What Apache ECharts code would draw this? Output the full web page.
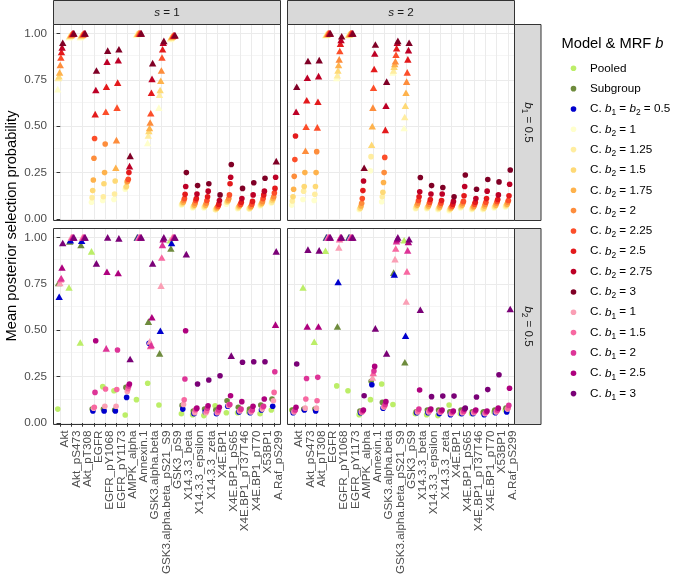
<!DOCTYPE html>
<html><head><meta charset="utf-8">
<script src="https://cdn.jsdelivr.net/npm/echarts@6/dist/echarts.min.js"></script>
<style>html,body{margin:0;padding:0;background:#fff}#c{width:685px;height:578px}</style>
</head><body><div id="c"></div>
<script>
const proteins = ['Akt','Akt_pS473','Akt_pT308','EGFR','EGFR_pY1068','EGFR_pY1173','AMPK_alpha','Annexin.1',
  'GSK3.alpha.beta','GSK3.alpha.beta_pS21_S9','GSK3_pS9','X14.3.3_beta','X14.3.3_epsilon','X14.3.3_zeta',
  'X4E.BP1','X4E.BP1_pS65','X4E.BP1_pT37T46','X4E.BP1_pT70','X53BP1','A.Raf_pS299'];
const topSeries = ['C. b2 = 1','C. b2 = 1.25','C. b2 = 1.5','C. b2 = 1.75','C. b2 = 2','C. b2 = 2.25','C. b2 = 2.5','C. b2 = 2.75','C. b2 = 3'];
const topColors = ['#FFFFCC','#FFEDA0','#FED976','#FEB24C','#FD8D3C','#FC4E2A','#E31A1C','#BD0026','#800026'];
const bottomSeries = ['Pooled','Subgroup','C. b1 = b2 = 0.5','C. b1 = 1','C. b1 = 1.5','C. b1 = 2','C. b1 = 2.5','C. b1 = 3'];
const bottomColors = ['#BCEE68','#6E8B3D','#0000CD','#FA9FB5','#F768A1','#DD3497','#AE017E','#7A0177'];
const legendOrder = ['Pooled','Subgroup','C. b1 = b2 = 0.5'].concat(topSeries, bottomSeries.slice(3));
const yTicks = [0, 0.25, 0.5, 0.75, 1];
const yMinor = [0.125, 0.375, 0.625, 0.875];

// rows = proteins, columns = series (s = 1, b1 = 0.5)
const s1b1 = [
 [0.70,0.76,0.77,0.79,0.83,0.87,0.90,0.925,0.95],
 [0.98,0.985,0.99,0.99,0.995,0.997,1,1,1],
 [0.98,0.985,0.99,0.992,0.995,0.997,1,1,1],
 [0.09,0.115,0.153,0.21,0.327,0.434,0.565,0.695,0.80],
 [0.10,0.12,0.19,0.25,0.404,0.578,0.713,0.847,0.907],
 [0.105,0.135,0.205,0.276,0.425,0.60,0.735,0.855,0.915],
 [0.16,0.17,0.175,0.20,0.205,0.214,0.25,0.285,0.34],
 [0.995,0.997,0.998,1,1,1,1,1,1],
 [0.41,0.45,0.475,0.49,0.52,0.57,0.68,0.755,0.84],
 [0.60,0.67,0.695,0.745,0.80,0.87,0.915,0.95,0.96],
 [0.97,0.975,0.98,0.983,0.985,0.988,0.99,0.99,0.99],
 [0.075,0.08,0.085,0.09,0.10,0.11,0.133,0.175,0.25],
 [0.06,0.065,0.07,0.075,0.085,0.10,0.11,0.135,0.18],
 [0.06,0.065,0.07,0.075,0.085,0.10,0.12,0.15,0.19],
 [0.05,0.05,0.055,0.06,0.065,0.07,0.08,0.10,0.13],
 [0.08,0.09,0.095,0.10,0.11,0.13,0.19,0.225,0.294],
 [0.055,0.06,0.065,0.07,0.075,0.08,0.09,0.11,0.165],
 [0.055,0.055,0.06,0.065,0.07,0.08,0.095,0.13,0.195],
 [0.07,0.075,0.08,0.085,0.095,0.11,0.13,0.15,0.22],
 [0.085,0.09,0.10,0.11,0.12,0.14,0.165,0.225,0.312]
];
const s1b1Shape = ['TTTTTTTTT','TTTTTTTTT','TTTTTTTTT','CCCCCCTTT','CCCCCTTTT','CCCTTTTTT','CCCCCCCTT','TTTTTTTTT',
 'TTTTTTTTT','TTTTTTTTT','TTTTTTTTT','CCCCCCCCC','CCCCCCCCC','CCCCCCCCC','CCCCCCCCC','CCCCCCCCC','CCCCCCCCC',
 'CCCCCCCCC','CCCCCCCCC','CCCCCCCCT'];

// s = 2, b1 = 0.5
const s2b1 = [
 [0.075,0.097,0.12,0.16,0.23,0.32,0.447,0.578,0.713],
 [0.105,0.15,0.175,0.25,0.368,0.497,0.64,0.761,0.851],
 [0.10,0.133,0.175,0.25,0.363,0.494,0.632,0.77,0.856],
 [0.99,0.993,0.995,0.997,1,1,1,1,1],
 [0.76,0.775,0.80,0.83,0.86,0.905,0.945,0.965,0.985],
 [0.99,0.993,0.995,0.997,1,1,1,1,1],
 [0.05,0.055,0.06,0.07,0.085,0.11,0.153,0.205,0.276],
 [0.26,0.336,0.40,0.50,0.60,0.707,0.808,0.892,0.94],
 [0.093,0.12,0.144,0.197,0.25,0.332,0.48,0.61,0.74],
 [0.79,0.80,0.82,0.835,0.85,0.885,0.92,0.95,0.96],
 [0.49,0.55,0.61,0.68,0.74,0.79,0.86,0.91,0.95],
 [0.055,0.06,0.07,0.075,0.085,0.10,0.12,0.147,0.224],
 [0.055,0.06,0.065,0.07,0.08,0.09,0.105,0.135,0.18],
 [0.05,0.055,0.06,0.065,0.075,0.085,0.10,0.135,0.17],
 [0.045,0.05,0.055,0.06,0.065,0.07,0.08,0.095,0.12],
 [0.06,0.065,0.07,0.075,0.085,0.095,0.125,0.175,0.237],
 [0.05,0.055,0.06,0.065,0.07,0.08,0.09,0.11,0.16],
 [0.05,0.055,0.06,0.07,0.08,0.09,0.11,0.15,0.213],
 [0.06,0.065,0.07,0.075,0.085,0.095,0.105,0.13,0.20],
 [0.065,0.07,0.075,0.08,0.09,0.10,0.125,0.187,0.264]
];
const s2b1Shape = ['CCCCCCCTT','CCCCTTTTT','CCCCCTTTT','TTTTTTTTT','TTTTTTTTT','TTTTTTTTT','CCCCCCCCT','CCTTTTTTT',
 'CCCCCCTTT','TTTTTTTTT','TTTTTTTTT','CCCCCCCCC','CCCCCCCCC','CCCCCCCCC','CCCCCCCCC','CCCCCCCCC','CCCCCCCCC',
 'CCCCCCCCC','CCCCCCCCC','CCCCCCCCC'];

// s = 1, b2 = 0.5
const s1b2 = [
 [0.075,0.754,0.68,0.755,0.775,0.78,0.838,0.97],
 [0.73,0.978,0.985,1,1,1,1,1],
 [0.434,0.959,0.982,1,1,1,1,1],
 [0.925,0.075,0.065,0.08,0.085,0.165,0.443,0.86],
 [0.196,0.075,0.065,0.09,0.183,0.402,0.815,1.0],
 [0.174,0.07,0.065,0.09,0.18,0.393,0.808,0.995],
 [0.043,0.192,0.138,0.17,0.185,0.20,0.21,0.345],
 [0.126,1,1,1,1,1,1,1],
 [0.214,0.546,0.43,0.44,0.415,0.42,0.57,0.86],
 [0.097,0.375,0.497,0.74,0.892,0.96,0.99,1.0],
 [0.985,0.94,0.97,1,1,1,1,1],
 [0.05,0.095,0.075,0.10,0.125,0.237,0.497,0.91],
 [0.045,0.065,0.05,0.055,0.07,0.075,0.08,0.21],
 [0.04,0.075,0.06,0.055,0.065,0.08,0.093,0.232],
 [0.093,0.07,0.05,0.055,0.06,0.07,0.085,0.255],
 [0.055,0.12,0.09,0.095,0.10,0.10,0.147,0.363],
 [0.055,0.085,0.06,0.065,0.07,0.075,0.115,0.327],
 [0.06,0.075,0.055,0.06,0.065,0.07,0.09,0.33],
 [0.05,0.097,0.07,0.075,0.085,0.09,0.129,0.33],
 [0.07,0.129,0.09,0.12,0.165,0.276,0.53,0.925]
];
const s1b2Shape = ['CTTTTTTT','TTTTTTTT','TTTTTTTT','TCCCCCCT','CCCCCTTT','CCCCCCTT','CCCCCCCT','CTTTTTTT',
 'CTCTTTTT','CTTTTTTT','TTTTTTTT','CCCCCCCT','CCCCCCCC','CCCCCCCC','CCCCCCCC','CCCCCCCT','CCCCCCCC',
 'CCCCCCCC','CCCCCCCC','CCCCCCTT'];

// s = 2, b2 = 0.5
const s2b2 = [
 [0.07,0.07,0.055,0.06,0.065,0.07,0.085,0.318],
 [0.73,0.075,0.07,0.08,0.129,0.24,0.52,0.934],
 [0.438,0.075,0.065,0.08,0.12,0.246,0.52,0.93],
 [0.928,1,1,1,1,1,1,1],
 [0.20,0.52,0.76,0.946,0.99,1,1,1],
 [0.174,1,1,1,1,1,1,1],
 [0.045,0.065,0.055,0.06,0.06,0.065,0.07,0.147],
 [0.126,0.225,0.206,0.245,0.27,0.28,0.305,0.51],
 [0.21,0.111,0.08,0.085,0.09,0.10,0.115,0.375],
 [0.10,0.81,0.80,0.883,0.94,0.98,0.99,1.0],
 [0.985,0.327,0.47,0.655,0.817,0.93,0.975,0.99],
 [0.05,0.06,0.055,0.06,0.065,0.075,0.178,0.61],
 [0.045,0.07,0.055,0.06,0.065,0.07,0.075,0.142],
 [0.04,0.07,0.05,0.06,0.06,0.065,0.07,0.145],
 [0.097,0.06,0.045,0.05,0.055,0.06,0.065,0.145],
 [0.05,0.07,0.05,0.055,0.06,0.065,0.075,0.08],
 [0.05,0.06,0.05,0.055,0.06,0.065,0.07,0.14],
 [0.055,0.06,0.045,0.05,0.055,0.06,0.065,0.18],
 [0.06,0.07,0.055,0.06,0.065,0.07,0.08,0.26],
 [0.07,0.08,0.06,0.075,0.08,0.095,0.187,0.614]
];
const s2b2Shape = ['CCCCCCCC','TCCCCCTT','TCCCCCTT','TTTTTTTT','CTTTTTTT','CTTTTTTT','CCCCCCCC','CCCTTCCT',
 'CCCCCCCT','CTTTTTTT','TTTTTTTT','CCCCCCCT','CCCCCCCC','CCCCCCCC','CCCCCCCC','CCCCCCCC','CCCCCCCC',
 'CCCCCCCC','CCCCCCCC','CCCCCCCT'];

const FF = '"Liberation Sans", Arial, Helvetica, sans-serif';
const grids = [
  {left: 53.5, top: 24.5, width: 227, height: 196},
  {left: 287.5, top: 24.5, width: 227, height: 196},
  {left: 53.5, top: 228.5, width: 227, height: 196},
  {left: 287.5, top: 228.5, width: 227, height: 196}
];
const panels = [
  {data: s1b1, shape: s1b1Shape, names: topSeries, colors: topColors},
  {data: s2b1, shape: s2b1Shape, names: topSeries, colors: topColors},
  {data: s1b2, shape: s1b2Shape, names: bottomSeries, colors: bottomColors},
  {data: s2b2, shape: s2b2Shape, names: bottomSeries, colors: bottomColors}
];
const colorOf = {};
topSeries.forEach((n, i) => colorOf[n] = topColors[i]);
bottomSeries.forEach((n, i) => colorOf[n] = bottomColors[i]);

const YMIN = -0.008, YMAX = 1.048, XMIN = -0.6, XMAX = 19.6;
const xTickVals = proteins.map((_, i) => i);
// padding labels at the axis ends (empty text) so every protein label is kept
const xLabelVals = [XMIN].concat(xTickVals, [XMAX]);
const xAxes = [], yAxes = [], series = [];
grids.forEach((g, gi) => {
  const bottom = gi >= 2, left = gi % 2 === 0;
  xAxes.push({
    type: 'value', gridIndex: gi, min: XMIN, max: XMAX, z: 4,
    axisLine: {show: false},
    axisTick: {show: bottom, customValues: xTickVals, length: 3.7, lineStyle: {color: '#333333', width: 1}},
    axisLabel: {show: bottom, customValues: xLabelVals, rotate: 90, margin: 6, verticalAlign: 'top',
      lineHeight: 10, showMinLabel: false, showMaxLabel: false, hideOverlap: false,
      formatter: v => (Math.abs(v - Math.round(v)) < 1e-6 ? (proteins[Math.round(v)] || '') : ''),
      color: '#4D4D4D', fontSize: 11.7, fontFamily: FF},
    splitLine: {show: false}
  });
  yAxes.push({
    type: 'value', gridIndex: gi, min: YMIN, max: YMAX, position: 'left', z: 4,
    axisLine: {show: false},
    axisTick: {show: left, customValues: yTicks, length: 3.7, lineStyle: {color: '#333333', width: 1}},
    axisLabel: {show: left, customValues: yTicks, margin: 6.5, formatter: v => v.toFixed(2),
      showMinLabel: true, showMaxLabel: true,
      color: '#4D4D4D', fontSize: 11.7, fontFamily: FF},
    splitLine: {show: false}
  });
  // panel grid lines drawn on the axes' scales
  series.push({
    type: 'scatter', xAxisIndex: gi, yAxisIndex: gi, data: [], silent: true, z: 1, zlevel: 0,
    markLine: {
      silent: true, symbol: ['none', 'none'], animation: false, label: {show: false}, z: 1,
      lineStyle: {color: '#EBEBEB', width: 1, type: 'solid'},
      emphasis: {disabled: true},
      data: xTickVals.map(v => ({xAxis: v}))
        .concat(yTicks.map(v => ({yAxis: v})))
        .concat(yMinor.map(v => ({yAxis: v, lineStyle: {color: '#EBEBEB', width: 0.5, type: 'solid'}})))
    }
  });
  const p = panels[gi];
  const n = p.names.length, dw = 0.5;
  p.names.forEach((name, k) => {
    const off = -dw / 2 + (k + 0.5) * dw / n;
    series.push({
      type: 'scatter', name: name, xAxisIndex: gi, yAxisIndex: gi, silent: true, z: 6,
      itemStyle: {color: p.colors[k], opacity: 1},
      data: proteins.map((_, i) => {
        const tri = p.shape[i][k] === 'T';
        return {value: [i + off, p.data[i][k]], symbol: tri ? 'triangle' : 'circle',
          symbolSize: tri ? [7.4, 6.6] : 5.6};
      })
    });
  });
});

function richName(name) {
  let out = '', last = 0, m;
  const re = /b([12])/g;
  while ((m = re.exec(name))) {
    if (m.index > last) out += '{t|' + name.slice(last, m.index) + '}';
    out += '{i|b}{s|' + m[1] + '}';
    last = m.index + 2;
  }
  if (last < name.length) out += '{t|' + name.slice(last) + '}';
  return out;
}
function rich(size, color) {
  return {
    t: {fontSize: size, fontFamily: FF, fill: color, lineHeight: 16},
    i: {fontSize: size, fontFamily: FF, fontStyle: 'italic', fill: color, lineHeight: 16},
    s: {fontSize: size * 0.72, fontFamily: FF, fill: color, lineHeight: 7, verticalAlign: 'bottom'}
  };
}
colorOf['C. b1 = b2 = 0.5'] = '#0000CD';

const graphic = [];
// top strips
[['{i|s}{t| = 1}', grids[0]], ['{i|s}{t| = 2}', grids[1]]].forEach(([txt, g]) => {
  graphic.push({type: 'rect', shape: {x: g.left, y: 0.5, width: g.width, height: g.top - 0.5},
    style: {fill: '#D9D9D9', stroke: '#333333', lineWidth: 1}, z: 10});
  graphic.push({type: 'text', x: g.left + g.width / 2, y: 12.5, z: 11,
    style: {text: txt, rich: rich(11.7, '#1A1A1A'), align: 'center', verticalAlign: 'middle'}});
});
// right strips
[['{i|b}{s|1}{t| = 0.5}', grids[1]], ['{i|b}{s|2}{t| = 0.5}', grids[3]]].forEach(([txt, g]) => {
  const x0 = g.left + g.width;
  graphic.push({type: 'rect', shape: {x: x0, y: g.top, width: 26.5, height: g.height},
    style: {fill: '#D9D9D9', stroke: '#333333', lineWidth: 1}, z: 10});
  graphic.push({type: 'text', x: x0 + 13.5, y: g.top + g.height / 2, rotation: -Math.PI / 2, z: 11,
    style: {text: txt, rich: rich(11.7, '#1A1A1A'), align: 'center', verticalAlign: 'middle'}});
});
// y axis title
graphic.push({type: 'text', x: 12, y: 226, rotation: Math.PI / 2, z: 11,
  style: {text: 'Mean posterior selection probability', fontSize: 14.7, fontFamily: FF, fill: '#000',
    align: 'center', verticalAlign: 'middle'}});
// legend
graphic.push({type: 'text', x: 561.5, y: 43.5, z: 11,
  style: {text: '{t|Model & MRF }{i|b}', rich: rich(14.7, '#000'), align: 'left', verticalAlign: 'middle'}});
legendOrder.forEach((name, k) => {
  const y = 68.3 + k * 20.33;
  graphic.push({type: 'circle', shape: {cx: 573.5, cy: y, r: 2.8}, style: {fill: colorOf[name]}, z: 11});
  graphic.push({type: 'text', x: 590, y: y, z: 11,
    style: {text: richName(name), rich: rich(11.7, '#000'), align: 'left', verticalAlign: 'middle'}});
});

const chart = echarts.init(document.getElementById('c'), null, {renderer: 'canvas'});
chart.setOption({
  animation: false,
  backgroundColor: '#ffffff',
  grid: grids.map(g => Object.assign({show: true, borderColor: '#333333', borderWidth: 1,
    backgroundColor: 'transparent', containLabel: false, outerBoundsMode: 'none', z: 5}, g)),
  xAxis: xAxes, yAxis: yAxes, series: series, graphic: graphic
});
</script></body></html>
